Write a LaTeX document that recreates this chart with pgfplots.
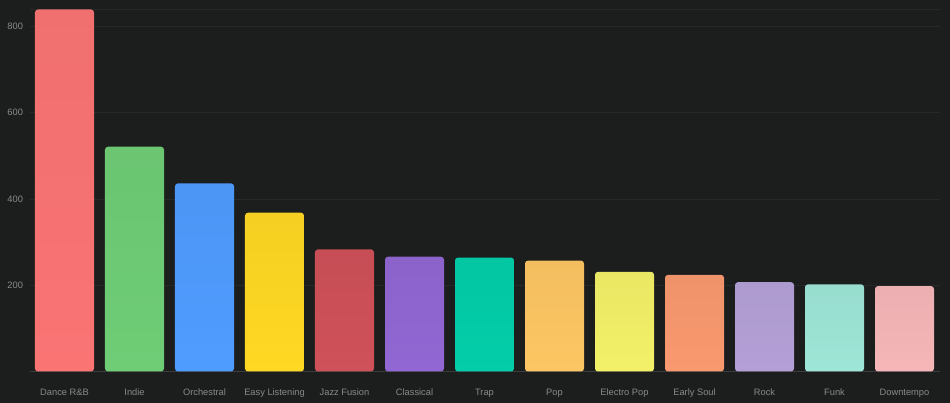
\documentclass[border=0pt]{standalone}
\usepackage{pgfplots}
\pgfplotsset{compat=1.18}
\usepackage{fontspec}
\setmainfont{Liberation Sans}
\definecolor{bg}{HTML}{1C1D1D}
\definecolor{gridc}{HTML}{272828}
\definecolor{axisc}{HTML}{3C3D3D}
\definecolor{labc}{HTML}{8A8A8A}
\definecolor{c1}{HTML}{FA7474}
\definecolor{c2}{HTML}{6FCD76}
\definecolor{c3}{HTML}{4F9CFF}
\definecolor{c4}{HTML}{FFD823}
\definecolor{c5}{HTML}{CF5159}
\definecolor{c6}{HTML}{9167D3}
\definecolor{c7}{HTML}{03CEA9}
\definecolor{c8}{HTML}{FDC663}
\definecolor{c9}{HTML}{F3F168}
\definecolor{c10}{HTML}{F9996F}
\definecolor{c11}{HTML}{B4A0D6}
\definecolor{c12}{HTML}{9EE6D7}
\definecolor{c13}{HTML}{F6B6B8}
\newcommand{\genrebar}[3]{\addplot[ybar, bar width=0.843, bar shift=0pt, draw=none, rounded corners=3pt, top color=#3!96!black, bottom color=#3] coordinates {(#1,#2)};}
\begin{document}
\begin{tikzpicture}[x=1pt,y=1pt]
\fill[bg] (0,0) rectangle (950,403);
\useasboundingbox (0,0) rectangle (950,403);
\begin{axis}[
  at={(29.5pt,31.5pt)}, anchor=south west,
  scale only axis, width=910pt, height=371.5pt,
  xmin=-0.5, xmax=12.5, ymin=0, ymax=861,
  axis line style={draw=none},
  axis x line*=bottom,
  axis y line*=left,
  xtick={0,...,12},
  xticklabels={Dance R\&B, Indie, Orchestral, Easy Listening, Jazz Fusion, Classical, Trap, Pop, Electro Pop, Early Soul, Rock, Funk, Downtempo},
  ytick={200,400,600,800},
  extra y ticks={839},
  extra y tick labels={},
  extra y tick style={grid=major, major grid style={gridc, line width=0.8pt}},
  ymajorgrids,
  major grid style={gridc, line width=0.8pt},
  major tick length=0pt,
  tick style={draw=none},
  tick label style={font=\fontsize{9.3}{10}\selectfont, text=labc},
  /pgf/number format/assume math mode=true,
  xticklabel style={yshift=-14pt},
  yticklabel style={xshift=-3pt},
  clip=false,
]
\draw[axisc, line width=0.8pt] (axis cs:-0.5,0) -- (axis cs:12.5,0);
\genrebar{0}{839}{c1}
\genrebar{1}{521}{c2}
\genrebar{2}{436}{c3}
\genrebar{3}{368}{c4}
\genrebar{4}{283}{c5}
\genrebar{5}{266}{c6}
\genrebar{6}{264}{c7}
\genrebar{7}{257}{c8}
\genrebar{8}{231}{c9}
\genrebar{9}{224}{c10}
\genrebar{10}{207}{c11}
\genrebar{11}{202}{c12}
\genrebar{12}{198}{c13}
\end{axis}
\end{tikzpicture}
\end{document}
